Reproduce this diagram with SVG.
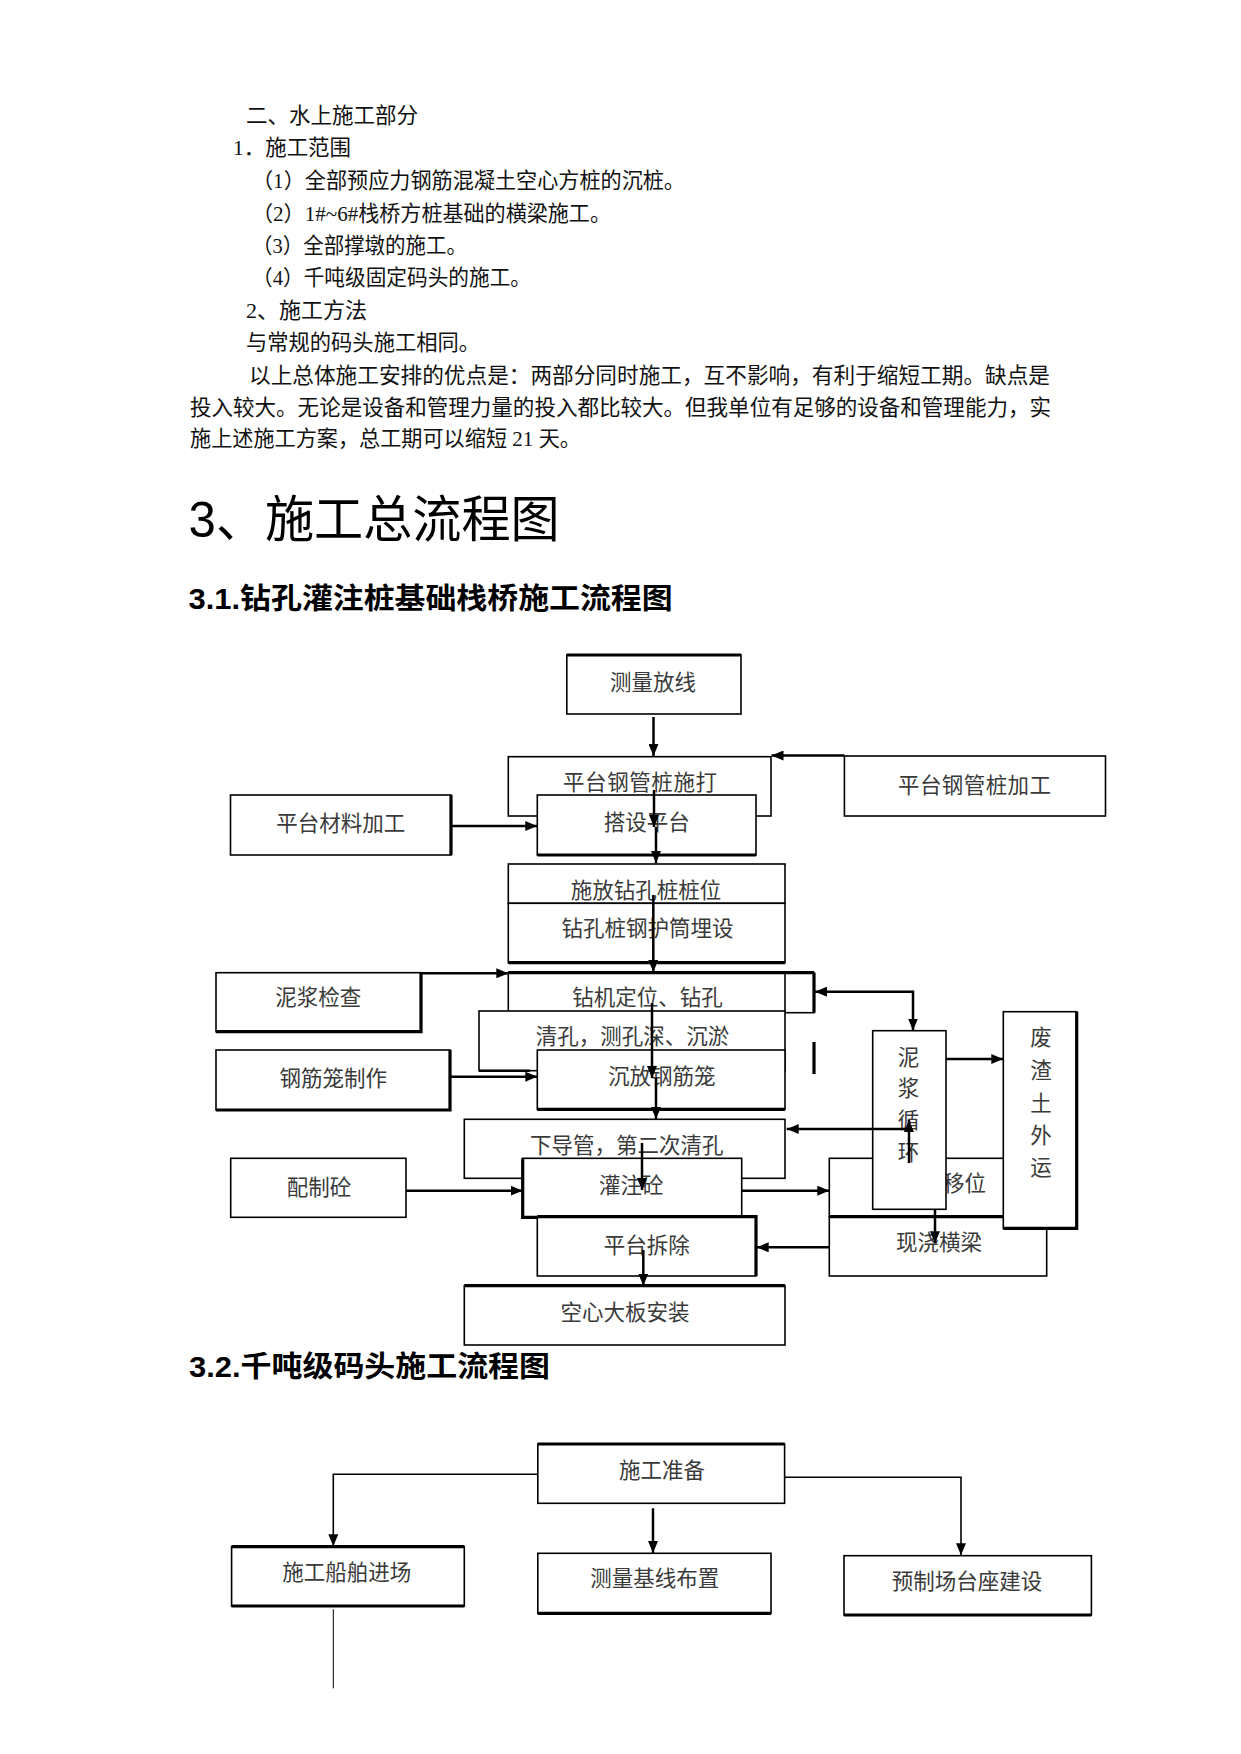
<svg xmlns="http://www.w3.org/2000/svg" width="1241" height="1754" viewBox="0 0 1241 1754">
<style>
  .body{font-family:'Liberation Serif','Noto Sans CJK SC',serif;font-size:21.3px;fill:#111}
  .h1{font-family:'Liberation Sans','Noto Sans CJK SC',sans-serif;font-size:50px;fill:#000}
  .h2{font-family:'Liberation Sans','Noto Sans CJK SC',sans-serif;font-size:29px;font-weight:bold;fill:#000}
  .box{fill:#fff;stroke:#000;stroke-width:1.6}
  .tk{stroke:#000;stroke-width:3.2;fill:none}
  .lbl{font-family:'Noto Sans CJK SC','Liberation Sans',sans-serif;font-size:21.5px;fill:#3a3a3a;text-anchor:middle}
  .lbs{font-family:'Noto Sans CJK SC','Liberation Sans',sans-serif;font-size:21.5px;fill:#3a3a3a}
  .c{stroke:#000;stroke-width:2.5;fill:none;marker-end:url(#ah)}
  .cn{stroke:#000;stroke-width:2.5;fill:none}
  .c2{stroke:#000;stroke-width:1.6;fill:none;marker-end:url(#ah)}
</style>
<defs>
  <marker id="ah" markerUnits="userSpaceOnUse" markerWidth="12" markerHeight="10" refX="12" refY="5" orient="auto">
    <path d="M0,0 L12,5 L0,10 z" fill="#000"/>
  </marker>
</defs>
<rect width="1241" height="1754" fill="#fff"/>

<g id="intro-text">
  <text class="body" x="246" y="123" textLength="172" lengthAdjust="spacingAndGlyphs">二、水上施工部分</text>
  <text class="body" x="233" y="155" textLength="118" lengthAdjust="spacingAndGlyphs">1．施工范围</text>
  <text class="body" x="252" y="188" textLength="433" lengthAdjust="spacingAndGlyphs">（1）全部预应力钢筋混凝土空心方桩的沉桩。</text>
  <text class="body" x="252" y="221" textLength="359" lengthAdjust="spacingAndGlyphs">（2）1#~6#栈桥方桩基础的横梁施工。</text>
  <text class="body" x="252" y="253" textLength="215" lengthAdjust="spacingAndGlyphs">（3）全部撑墩的施工。</text>
  <text class="body" x="252" y="285" textLength="279" lengthAdjust="spacingAndGlyphs">（4）千吨级固定码头的施工。</text>
  <text class="body" x="246" y="318" textLength="121" lengthAdjust="spacingAndGlyphs">2、施工方法</text>
  <text class="body" x="246" y="350" textLength="234" lengthAdjust="spacingAndGlyphs">与常规的码头施工相同。</text>
  <text class="body" x="249" y="383" textLength="801" lengthAdjust="spacingAndGlyphs">以上总体施工安排的优点是：两部分同时施工，互不影响，有利于缩短工期。缺点是</text>
  <text class="body" x="190" y="415" textLength="861" lengthAdjust="spacingAndGlyphs">投入较大。无论是设备和管理力量的投入都比较大。但我单位有足够的设备和管理能力，实</text>
  <text class="body" x="190" y="446" textLength="391" lengthAdjust="spacingAndGlyphs">施上述施工方案，总工期可以缩短 21 天。</text>
</g>

<g id="headings">
  <text class="h1" x="188.6" y="537" textLength="371" lengthAdjust="spacingAndGlyphs">3、施工总流程图</text>
  <text class="h2" x="188.6" y="609" textLength="484" lengthAdjust="spacingAndGlyphs">3.1.钻孔灌注桩基础栈桥施工流程图</text>
  <text class="h2" x="189" y="1377" textLength="361" lengthAdjust="spacingAndGlyphs">3.2.千吨级码头施工流程图</text>
</g>

<!-- Flowchart 3.1 nodes -->
<g id="n-celiang">
  <rect class="box" x="566.8" y="655" width="174.2" height="59"/>
  <line class="tk" x1="566.8" y1="655" x2="741" y2="655"/>
  <text class="lbl" x="653" y="690">测量放线</text>
</g>
<g id="n-shida">
  <rect class="box" x="508.3" y="756.7" width="262.7" height="59.3"/>
  <text class="lbl" x="640" y="789.7" textLength="154" lengthAdjust="spacing">平台钢管桩施打</text>
</g>
<g id="n-dashe">
  <rect class="box" x="537.3" y="795" width="218.7" height="60"/>
  <line class="tk" x1="537.3" y1="855" x2="756" y2="855"/>
  <text class="lbl" x="646.7" y="829.7">搭设平台</text>
</g>
<g id="n-gangguanjiagong">
  <rect class="box" x="844.4" y="756" width="261.1" height="60"/>
  <text class="lbl" x="974.5" y="793" textLength="153" lengthAdjust="spacing">平台钢管桩加工</text>
</g>
<g id="n-cailiao">
  <rect class="box" x="230.5" y="795" width="220.5" height="60"/>
  <line class="tk" x1="451" y1="795" x2="451" y2="855"/>
  <text class="lbl" x="340.7" y="831">平台材料加工</text>
</g>
<g id="n-shifang">
  <rect class="box" x="508.3" y="864" width="276.7" height="39.3"/>
  <text class="lbl" x="646" y="898">施放钻孔桩桩位</text>
</g>
<g id="n-hutong">
  <rect class="box" x="508.3" y="903.3" width="276.7" height="59.4"/>
  <line class="tk" x1="508.3" y1="962.7" x2="785" y2="962.7"/>
  <text class="lbl" x="647.5" y="936.3">钻孔桩钢护筒埋设</text>
</g>
<g id="n-nijiangjiancha">
  <rect class="box" x="216" y="972.7" width="205" height="59"/>
  <polyline class="tk" points="421,972.7 421,1031.7 216,1031.7"/>
  <text class="lbl" x="318.3" y="1004.7">泥浆检查</text>
</g>
<g id="n-zuanji">
  <rect class="box" x="508.3" y="972.7" width="305.7" height="40"/>
  <line class="tk" x1="508.3" y1="972.7" x2="814" y2="972.7"/>
  <line stroke="#000" stroke-width="1.6" x1="785" y1="972.7" x2="785" y2="1012.7"/>
  <line class="tk" x1="814" y1="972.7" x2="814" y2="1012.7"/>
  <line class="tk" x1="814" y1="1042" x2="814" y2="1074"/>
  <text class="lbl" x="647.5" y="1004.7">钻机定位、钻孔</text>
</g>
<g id="n-qingkong">
  <rect class="box" x="479" y="1011" width="306" height="59.7"/>
  <text class="lbl" x="632.5" y="1044">清孔，测孔深、沉淤</text>
</g>
<g id="n-chenfang">
  <rect class="box" x="537.3" y="1050" width="247.7" height="59.3"/>
  <line class="tk" x1="537.3" y1="1109.3" x2="785" y2="1109.3"/>
  <text class="lbl" x="661.7" y="1084">沉放钢筋笼</text>
</g>
<g id="n-gangjinlong">
  <rect class="box" x="216" y="1050" width="234" height="60"/>
  <polyline class="tk" points="450,1050 450,1110 216,1110"/>
  <text class="lbl" x="333.3" y="1086.3">钢筋笼制作</text>
</g>
<g id="n-xiadaoguan">
  <rect class="box" x="464.3" y="1119.3" width="320.7" height="59"/>
  <text class="lbl" x="626.7" y="1153">下导管，第二次清孔</text>
</g>
<g id="n-guanzhu">
  <rect class="box" x="522.7" y="1158.3" width="219" height="59"/>
  <polyline class="tk" points="522.7,1158.3 522.7,1217.3 741.7,1217.3"/>
  <text class="lbl" x="631.3" y="1193">灌注砼</text>
</g>
<g id="n-peizhi">
  <rect class="box" x="230.7" y="1158.3" width="175.3" height="59" stroke-width="2.2"/>
  <text class="lbl" x="319" y="1194.7">配制砼</text>
</g>
<g id="n-yiwei">
  <rect class="box" x="829.3" y="1158.3" width="217.4" height="58.4"/>
  <text class="lbs" x="943" y="1191.3">移位</text>
</g>
<g id="n-xianjiao">
  <rect class="box" x="829.3" y="1216.7" width="217.4" height="59.3"/>
  <line class="tk" x1="829.3" y1="1216.7" x2="1046.7" y2="1216.7"/>
  <text class="lbl" x="939" y="1249.7">现浇横梁</text>
</g>
<g id="n-chaichu">
  <rect class="box" x="537.3" y="1216.7" width="218.7" height="59.3"/>
  <polyline class="tk" points="537.3,1216.7 756,1216.7 756,1276"/>
  <text class="lbl" x="646.7" y="1253">平台拆除</text>
</g>
<g id="n-nijiangxunhuan">
  <rect class="box" x="872.7" y="1030.7" width="73.3" height="178.6" stroke-width="2.2"/>
  <text class="lbl" x="908.5" y="1064.7">泥</text>
  <text class="lbl" x="908.5" y="1096">浆</text>
  <text class="lbl" x="908.5" y="1128">循</text>
  <text class="lbl" x="908.5" y="1159.7">环</text>
</g>
<g id="n-feizha">
  <rect class="box" x="1003.3" y="1011.7" width="73.4" height="216.6" stroke-width="2.2"/>
  <polyline class="tk" points="1076.7,1011.7 1076.7,1228.3 1003.3,1228.3"/>
  <text class="lbl" x="1041" y="1044.7">废</text>
  <text class="lbl" x="1041" y="1078">渣</text>
  <text class="lbl" x="1041" y="1111">土</text>
  <text class="lbl" x="1041" y="1143">外</text>
  <text class="lbl" x="1041" y="1174.7">运</text>
</g>
<g id="n-kongxin">
  <rect class="box" x="464.3" y="1285.7" width="320.7" height="59.3"/>
  <line class="tk" x1="464.3" y1="1285.7" x2="785" y2="1285.7"/>
  <text class="lbl" x="625" y="1319.5">空心大板安装</text>
</g>

<!-- Flowchart 3.2 nodes -->
<g id="n-zhunbei">
  <rect class="box" x="537.8" y="1444" width="246.8" height="59.3"/>
  <line class="tk" x1="537.8" y1="1444" x2="784.6" y2="1444"/>
  <text class="lbl" x="662" y="1478">施工准备</text>
</g>
<g id="n-chuanbo">
  <rect class="box" x="231.6" y="1546.7" width="232.7" height="59.3"/>
  <line class="tk" x1="231.6" y1="1546.7" x2="464.3" y2="1546.7"/>
  <line class="tk" x1="231.6" y1="1606" x2="464.3" y2="1606"/>
  <text class="lbl" x="346.8" y="1579.7">施工船舶进场</text>
</g>
<g id="n-jixian">
  <rect class="box" x="537.8" y="1553.3" width="233.2" height="60"/>
  <line class="tk" x1="537.8" y1="1613.3" x2="771" y2="1613.3"/>
  <text class="lbl" x="654.8" y="1586.3">测量基线布置</text>
</g>
<g id="n-yuzhi">
  <rect class="box" x="844" y="1555.7" width="247.4" height="59.3"/>
  <line class="tk" x1="844" y1="1615" x2="1091.4" y2="1615"/>
  <text class="lbl" x="967" y="1588.7">预制场台座建设</text>
</g>

<g id="connectors">
  <line class="c" x1="653.5" y1="717" x2="653.5" y2="756"/>
  <line class="c" x1="844.4" y1="755.5" x2="771.5" y2="755.5" stroke-width="3"/>
  <line class="c" x1="451" y1="826" x2="537.3" y2="826" stroke-width="3"/>
  <line class="c" x1="654" y1="790" x2="654" y2="827"/>
  <line class="c" x1="656" y1="827" x2="656" y2="863"/>
  <line class="c" x1="653.3" y1="895" x2="653.3" y2="972"/>
  <line class="c" x1="421" y1="973.3" x2="508.3" y2="973.3" stroke-width="3"/>
  <line class="c" x1="913" y1="991.7" x2="815" y2="991.7"/>
  <line class="c" x1="913" y1="990.5" x2="913" y2="1030.5"/>
  <line class="c" x1="652" y1="1003" x2="652" y2="1078"/>
  <line class="cn" x1="479" y1="1070.7" x2="530" y2="1070.7"/>
  <line class="c" x1="450" y1="1076.7" x2="537.3" y2="1076.7" stroke-width="3"/>
  <line class="c" x1="656" y1="1078" x2="656" y2="1119"/>
  <line class="c" x1="946" y1="1059" x2="1003.3" y2="1059" stroke-width="4"/>
  <line class="c" x1="909" y1="1163" x2="909" y2="1120"/>
  <line class="c" x1="909" y1="1129" x2="786.7" y2="1129" stroke-width="3"/>
  <line class="c" x1="642" y1="1143" x2="642" y2="1190"/>
  <line class="c" x1="406" y1="1190.7" x2="522.7" y2="1190.7" stroke-width="3"/>
  <line class="c" x1="741.7" y1="1190.7" x2="829.3" y2="1190.7" stroke-width="3"/>
  <line class="c" x1="935" y1="1209.3" x2="935" y2="1243.3"/>
  <line class="c" x1="829.3" y1="1247.3" x2="756.7" y2="1247.3" stroke-width="3"/>
  <line class="c" x1="643.3" y1="1250" x2="643.3" y2="1285.7"/>
  <polyline class="c2" points="537.8,1474.3 333.3,1474.3 333.3,1546.2"/>
  <line class="c" x1="653" y1="1508.3" x2="653" y2="1553"/>
  <polyline class="c2" points="784.6,1477.3 961,1477.3 961,1555.2" stroke-width="2"/>
  <line stroke="#000" stroke-width="1" x1="333.3" y1="1609.3" x2="333.3" y2="1688.3"/>
</g>
</svg>
